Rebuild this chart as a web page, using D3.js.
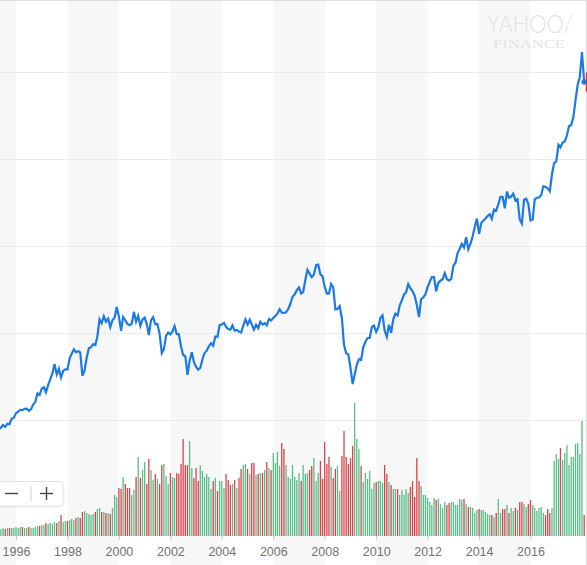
<!DOCTYPE html>
<html>
<head>
<meta charset="utf-8">
<script src="https://cdn.jsdelivr.net/npm/d3@7"></script>
<style>
  html, body { margin: 0; padding: 0; background: #fff; overflow: hidden; }
  svg { display: block; font-family: "Liberation Sans", Arial, sans-serif; }
</style>
</head>
<body>
<svg id="chart" width="587" height="565"></svg>
<script>
const width = 587, height = 565;

// first monthly bar / point of the series
const firstMonth = new Date(1995, 4, 1);

// monthly closes, May 1995 .. Feb 2018
const closes = [
  4465, 4556, 4708, 4611, 4789, 4756, 5075, 5117,
  5395, 5486, 5587, 5569, 5643, 5655, 5529, 5616, 5882, 6029, 6522, 6448,
  6813, 6878, 6584, 7009, 7331, 7673, 8223, 7622, 7945, 7442, 7823, 7908,
  7907, 8546, 8800, 9063, 8900, 8952, 8883, 7539, 7843, 8592, 9117, 9181,
  9359, 9307, 9786, 10789, 10560, 10971, 10655, 10829, 10337, 10730, 10878, 11497,
  10941, 10128, 10922, 10734, 10522, 10448, 10522, 11215, 10651, 10971, 10415, 10787,
  10887, 10495, 9879, 10735, 10912, 10502, 10523, 9950, 8848, 9075, 9852, 10022,
  9920, 10106, 10404, 9946, 9925, 9243, 8737, 8664, 7592, 8397, 8896, 8342,
  8054, 7891, 7992, 8480, 8850, 8985, 9234, 9416, 9275, 9801, 9782, 10454,
  10488, 10584, 10358, 10226, 10188, 10435, 10140, 10174, 10080, 10027, 10428, 10783,
  10490, 10766, 10504, 10193, 10467, 10275, 10641, 10482, 10569, 10440, 10806, 10718,
  10865, 10993, 11109, 11367, 11168, 11150, 11186, 11381, 11679, 12081, 12221, 12463,
  12622, 12269, 12354, 13063, 13628, 13409, 13212, 13358, 13896, 13930, 13372, 13265,
  12650, 12266, 12263, 12820, 12638, 11350, 11378, 11544, 10851, 9325, 8829, 8776,
  8001, 7063, 7609, 8168, 8500, 8447, 9172, 9496, 9712, 9713, 10345, 10428,
  10067, 10325, 10857, 11009, 10137, 9774, 10466, 10015, 10788, 11118, 11006, 11578,
  11892, 12226, 12320, 12811, 12570, 12414, 12143, 11614, 10913, 11955, 12046, 12218,
  12633, 12952, 13212, 13214, 12393, 12880, 13009, 13091, 13437, 13096, 13026, 13104,
  13861, 14054, 14579, 14840, 15116, 14910, 15500, 14810, 15130, 15546, 16086, 16577,
  15699, 16322, 16458, 16581, 16717, 16827, 16563, 17098, 17043, 17391, 17828, 17823,
  17165, 18133, 17776, 17841, 18011, 17620, 17690, 16528, 16285, 17664, 17720, 17425,
  16466, 16517, 17685, 17774, 17787, 17930, 18432, 18401, 18308, 18142, 19124, 19763,
  19864, 20812, 20663, 20941, 21009, 21350, 21891, 21948, 22405, 23377, 24272, 24719,
  26149, 24425
];

// monthly volume (millions of shares), same months
const volumes = [
  490, 490, 560, 490, 560, 560, 560, 560,
  630, 560, 630, 630, 560, 560, 630, 560, 560, 630, 700, 700,
  770, 770, 910, 840, 910, 840, 980, 910, 1050, 1470, 980, 1050,
  1050, 1120, 1190, 1120, 1260, 1330, 1260, 1680, 1750, 1610, 1540, 1470,
  1540, 1680, 1890, 1960, 1680, 1680, 1610, 1610, 1540, 1960, 2870, 2730,
  3360, 3290, 4130, 3640, 3360, 3360, 2870, 3220, 4130, 5530, 4060, 4620,
  5180, 3640, 5390, 4620, 3920, 4340, 3990, 3640, 4970, 5040, 4200, 3640,
  4410, 4130, 4060, 4410, 4340, 5040, 6790, 4970, 4970, 6650, 4760, 4060,
  4760, 3850, 4970, 4550, 4130, 4340, 4130, 3290, 3850, 4060, 3150, 3850,
  3850, 3360, 4340, 3920, 3570, 3640, 3920, 3360, 4060, 4690, 4970, 5040,
  4690, 4340, 5110, 5110, 4270, 4340, 4410, 4410, 4620, 5180, 4760, 4620,
  5810, 5110, 5880, 4900, 6510, 6090, 4970, 4130, 3990, 4970, 4130, 3920,
  4410, 3850, 4970, 4340, 4410, 4620, 4900, 5460, 3850, 4410, 5250, 3990,
  6580, 5040, 5530, 4830, 4060, 4690, 4900, 3150, 5600, 7350, 5530, 5040,
  5460, 6300, 9310, 6790, 6090, 4900, 3780, 4410, 3990, 4550, 3290, 3710,
  3780, 3850, 3850, 3710, 4970, 4340, 3780, 3570, 3290, 3290, 3290, 2870,
  3220, 2870, 3290, 3010, 3430, 3850, 2730, 5460, 3850, 3500, 2870, 2870,
  2660, 2380, 2170, 2660, 2520, 2590, 2240, 1960, 2380, 2170, 2310, 2380,
  2380, 2170, 2170, 2590, 2520, 2590, 2240, 2030, 2030, 1960, 1610, 1820,
  1890, 1820, 1820, 1680, 1540, 1470, 1470, 1330, 1610, 2590, 1610, 1890,
  1890, 2170, 1610, 1960, 1750, 1960, 1820, 2380, 2380, 2240, 2030, 2240,
  2520, 2170, 1960, 1750, 1960, 2030, 1610, 1470, 1890, 1610, 1960, 5250,
  5740, 5390, 6160, 5320, 5810, 6370, 4970, 5530, 5530, 6440, 6510, 5740,
  8050, 1470
];

const yearTicks = [1996, 1998, 2000, 2002, 2004, 2006, 2008, 2010, 2012, 2014, 2016];
const shadedYears = [1994, 1998, 2002, 2006, 2010, 2014];
const priceGrid = [5000, 10000, 15000, 20000, 25000];

const upColor = "#58bd89", downColor = "#d9444a", lineColor = "#1d7ae5";

const data = closes.map((c, i) => ({
  date: d3.timeMonth.offset(firstMonth, i),
  close: c,
  volume: volumes[i],
  up: i === 0 ? true : c >= closes[i - 1]
}));

//scales: time axis is fixed by the 1996 and 2016 year ticks
const x = d3.scaleTime().domain([new Date(1996, 0, 1), new Date(2016, 0, 1)]).range([16, 530.5]);
const y = d3.scaleLinear().domain([5000, 25000]).range([420, 72]);
const yVol = d3.scaleLinear().domain([0, 10500]).range([536, 386]);

const svg = d3.select("#chart");

//alternating two-year background bands
svg.append("g").selectAll("rect")
  .data(shadedYears)
  .join("rect")
  .attr("x", d => x(new Date(d, 0, 1)))
  .attr("width", d => x(new Date(d + 2, 0, 1)) - x(new Date(d, 0, 1)))
  .attr("y", 0)
  .attr("height", height)
  .attr("fill", "#f7f7f7");

//horizontal price grid
svg.append("g").selectAll("line")
  .data(priceGrid)
  .join("line")
  .attr("x1", 0).attr("x2", width)
  .attr("y1", d => Math.round(y(d)) + 0.5).attr("y2", d => Math.round(y(d)) + 0.5)
  .attr("stroke", "#ebebeb");

//frame on top and right
svg.append("path")
  .attr("d", `M0,0.5H${width - 0.5}V${height}`)
  .attr("fill", "none")
  .attr("stroke", "#dedede");

//watermark
svg.append("text")
  .attr("x", 487).attr("y", 32.5)
  .attr("textLength", 86).attr("lengthAdjust", "spacingAndGlyphs")
  .style("font-family", "Lato, 'Liberation Sans', sans-serif")
  .style("font-weight", 300)
  .style("font-size", "25px")
  .attr("fill", "#e3e3e3")
  .text("YAHOO/");
svg.append("text")
  .attr("x", 493).attr("y", 47.5)
  .attr("textLength", 72).attr("lengthAdjust", "spacingAndGlyphs")
  .style("font-family", "'Liberation Serif', serif")
  .style("font-size", "12.5px")
  .attr("fill", "#e3e3e3")
  .text("FINANCE");

//volume bars
svg.append("g").selectAll("rect")
  .data(data)
  .join("rect")
  .attr("x", d => x(d.date) - 0.65)
  .attr("width", 1.3)
  .attr("y", d => yVol(d.volume))
  .attr("height", d => yVol(0) - yVol(d.volume))
  .attr("fill", d => d.up ? upColor : downColor);

//year axis
const xAxis = d3.axisBottom(x)
  .tickValues(yearTicks.map(t => new Date(t, 0, 1)))
  .tickFormat(d3.timeFormat("%Y"))
  .tickSize(4)
  .tickPadding(7);

const axisG = svg.append("g")
  .attr("transform", `translate(0,${yVol(0)})`)
  .call(xAxis);
axisG.select(".domain").remove();
axisG.selectAll(".tick line").attr("stroke", "#c8c8c8");
axisG.selectAll(".tick text")
  .attr("fill", "#737373")
  .style("font-family", "'Liberation Sans', Arial, sans-serif")
  .style("font-size", "12.5px");

//price line
const line = d3.line().x(d => x(d.date)).y(d => y(d.close));
svg.append("path")
  .datum(data)
  .attr("d", line)
  .attr("fill", "none")
  .attr("stroke", lineColor)
  .attr("stroke-width", 2.2);

//last value marker and its (clipped) price label
const last = data[data.length - 1];
svg.append("rect")
  .attr("x", x(last.date) + 1.6)
  .attr("y", y(last.close) - 9.5)
  .attr("width", 20).attr("height", 19)
  .attr("fill", "#e0202f");
svg.append("circle")
  .attr("cx", x(last.date)).attr("cy", y(last.close))
  .attr("r", 2.7)
  .attr("fill", lineColor);

//zoom control
const zoomG = svg.append("g");
zoomG.append("rect")
  .attr("x", -6).attr("y", 481.5)
  .attr("width", 69).attr("height", 24.5)
  .attr("rx", 3)
  .attr("fill", "#fff")
  .attr("stroke", "#e4e4e4")
  .style("filter", "drop-shadow(0px 1px 1px rgba(0,0,0,0.08))");
zoomG.append("line")
  .attr("x1", 5).attr("x2", 18).attr("y1", 493.5).attr("y2", 493.5)
  .attr("stroke", "#444").attr("stroke-width", 1.4);
zoomG.append("line")
  .attr("x1", 31).attr("x2", 31).attr("y1", 486).attr("y2", 501)
  .attr("stroke", "#d0d0d0");
zoomG.append("line")
  .attr("x1", 40).attr("x2", 53).attr("y1", 493.5).attr("y2", 493.5)
  .attr("stroke", "#444").attr("stroke-width", 1.4);
zoomG.append("line")
  .attr("x1", 46.5).attr("x2", 46.5).attr("y1", 487).attr("y2", 500)
  .attr("stroke", "#444").attr("stroke-width", 1.4);
</script>
</body>
</html>
